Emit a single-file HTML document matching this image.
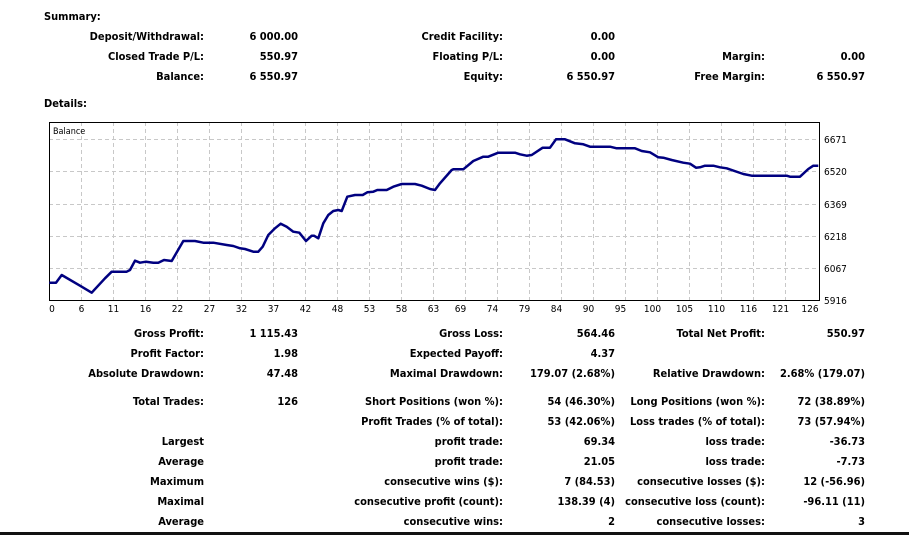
<!DOCTYPE html>
<html><head><meta charset="utf-8"><style>
body{margin:0;width:909px;height:535px;background:#fff;position:relative;overflow:hidden;font-family:"DejaVu Sans Condensed","Liberation Sans",sans-serif;font-weight:bold;font-size:11px;color:#000}
.t{position:absolute;line-height:14px;white-space:nowrap}
</style></head><body>
<div class="t" style="left:44px;top:10px">Summary:</div>
<div class="t" style="left:44px;top:97px">Details:</div>

<div class="t" style="right:705px;top:30px">Deposit/Withdrawal:</div>
<div class="t" style="right:611px;top:30px">6 000.00</div>
<div class="t" style="right:406px;top:30px">Credit Facility:</div>
<div class="t" style="right:294px;top:30px">0.00</div>

<div class="t" style="right:705px;top:50px">Closed Trade P/L:</div>
<div class="t" style="right:611px;top:50px">550.97</div>
<div class="t" style="right:406px;top:50px">Floating P/L:</div>
<div class="t" style="right:294px;top:50px">0.00</div>
<div class="t" style="right:144px;top:50px">Margin:</div>
<div class="t" style="right:44px;top:50px">0.00</div>

<div class="t" style="right:705px;top:70px">Balance:</div>
<div class="t" style="right:611px;top:70px">6 550.97</div>
<div class="t" style="right:406px;top:70px">Equity:</div>
<div class="t" style="right:294px;top:70px">6 550.97</div>
<div class="t" style="right:144px;top:70px">Free Margin:</div>
<div class="t" style="right:44px;top:70px">6 550.97</div>

<svg style="position:absolute;left:0;top:0" width="909" height="535" font-family="DejaVu Sans Condensed, Liberation Sans, sans-serif" font-size="10" font-weight="normal">
<g stroke="#c8c8c8" stroke-dasharray="4,3" stroke-width="1">
<line x1="49" y1="139.5" x2="820" y2="139.5"/><line x1="49" y1="171.5" x2="820" y2="171.5"/><line x1="49" y1="204.5" x2="820" y2="204.5"/><line x1="49" y1="236.5" x2="820" y2="236.5"/><line x1="49" y1="268.5" x2="820" y2="268.5"/>
<line x1="81.5" y1="122" x2="81.5" y2="301"/><line x1="113.5" y1="122" x2="113.5" y2="301"/><line x1="145.5" y1="122" x2="145.5" y2="301"/><line x1="177.5" y1="122" x2="177.5" y2="301"/><line x1="209.5" y1="122" x2="209.5" y2="301"/><line x1="241.5" y1="122" x2="241.5" y2="301"/><line x1="273.5" y1="122" x2="273.5" y2="301"/><line x1="305.5" y1="122" x2="305.5" y2="301"/><line x1="337.5" y1="122" x2="337.5" y2="301"/><line x1="369.5" y1="122" x2="369.5" y2="301"/><line x1="401.5" y1="122" x2="401.5" y2="301"/><line x1="433.5" y1="122" x2="433.5" y2="301"/><line x1="465.5" y1="122" x2="465.5" y2="301"/><line x1="497.5" y1="122" x2="497.5" y2="301"/><line x1="529.5" y1="122" x2="529.5" y2="301"/><line x1="561.5" y1="122" x2="561.5" y2="301"/><line x1="593.5" y1="122" x2="593.5" y2="301"/><line x1="625.5" y1="122" x2="625.5" y2="301"/><line x1="657.5" y1="122" x2="657.5" y2="301"/><line x1="689.5" y1="122" x2="689.5" y2="301"/><line x1="721.5" y1="122" x2="721.5" y2="301"/><line x1="753.5" y1="122" x2="753.5" y2="301"/><line x1="785.5" y1="122" x2="785.5" y2="301"/>
</g>
<rect x="49.5" y="122.5" width="770" height="178" fill="none" stroke="#000" stroke-width="1"/>
<text x="53" y="134" font-size="9">Balance</text>
<polyline fill="none" stroke="#000080" stroke-width="2.5" stroke-linejoin="round" points="49.3,282.7 56,282.7 61.7,275 80,285.7 91.7,292.7 105,278.3 111.7,271.7 126.7,271.7 130,270 135,260.7 140,262.7 146,261.7 153.3,262.7 158.3,262.7 164,260 171.7,261 183.3,241 195,241 203.3,242.7 213.3,242.7 226.7,245 233.3,246 240,248.3 245,249 253.3,251.7 258.3,251.7 262.7,246.7 268.3,235 275,228.3 280.7,223.7 286.7,226.7 293.3,231.7 299.3,232.7 306,241 311.7,235.7 314,235.7 318.3,238.3 323.3,223.3 328.3,215 333.3,211 338.3,210 341.7,211 347.3,196.7 355,195 362.7,195 367.3,192.3 373.3,191.7 377.3,190 386.7,190 393.3,186.7 401.7,184 415,184 421.7,185.7 430,189 435,190 440,183.3 451.7,170 453.3,169.3 463.3,169.3 473.3,161 483.3,156.7 488.3,156.7 498.3,152.7 515,152.7 520,154.3 526.7,155.7 531.7,155 542.7,147.7 550,147.7 556,139.3 565,139.3 575,143.3 583.3,144.3 590,146.7 610,146.7 616.7,148.3 635,148.3 641.7,151 650,152.3 658.3,157.3 663.3,157.7 671.7,160 683.3,162.7 690,163.7 696,167.7 700,167.3 705,165.7 713.3,165.7 720,167.3 726.7,168.3 743.3,174 751.7,175.7 786.7,175.7 790,176.7 800,176.7 808.3,169 813.3,165.7 818.3,165.7"/>
<g text-anchor="start">
<text x="824" y="143">6671</text><text x="824" y="175">6520</text><text x="824" y="208">6369</text><text x="824" y="240">6218</text><text x="824" y="272">6067</text><text x="824" y="304">5916</text>
</g>
<g text-anchor="middle">
<text x="52" y="312">0</text><text x="81.5" y="312">6</text><text x="113.5" y="312">11</text><text x="145.5" y="312">16</text><text x="177.5" y="312">22</text><text x="209.5" y="312">27</text><text x="241.5" y="312">32</text><text x="273.5" y="312">37</text><text x="305.5" y="312">42</text><text x="337.5" y="312">48</text><text x="369.5" y="312">53</text><text x="401.5" y="312">58</text><text x="433.5" y="312">63</text><text x="460.5" y="312">69</text><text x="492.5" y="312">74</text><text x="524.5" y="312">79</text><text x="556.5" y="312">84</text><text x="588.5" y="312">90</text><text x="620.5" y="312">95</text><text x="652.5" y="312">100</text><text x="684.5" y="312">105</text><text x="716.5" y="312">110</text><text x="748.5" y="312">116</text><text x="780.5" y="312">121</text><text x="810" y="312">126</text>
</g>
<rect x="0" y="532" width="909" height="3" fill="#111"/>
</svg>

<div class="t" style="right:705px;top:327px">Gross Profit:</div>
<div class="t" style="right:611px;top:327px">1 115.43</div>
<div class="t" style="right:406px;top:327px">Gross Loss:</div>
<div class="t" style="right:294px;top:327px">564.46</div>
<div class="t" style="right:144px;top:327px">Total Net Profit:</div>
<div class="t" style="right:44px;top:327px">550.97</div>

<div class="t" style="right:705px;top:347px">Profit Factor:</div>
<div class="t" style="right:611px;top:347px">1.98</div>
<div class="t" style="right:406px;top:347px">Expected Payoff:</div>
<div class="t" style="right:294px;top:347px">4.37</div>

<div class="t" style="right:705px;top:367px">Absolute Drawdown:</div>
<div class="t" style="right:611px;top:367px">47.48</div>
<div class="t" style="right:406px;top:367px">Maximal Drawdown:</div>
<div class="t" style="right:294px;top:367px">179.07 (2.68%)</div>
<div class="t" style="right:144px;top:367px">Relative Drawdown:</div>
<div class="t" style="right:44px;top:367px">2.68% (179.07)</div>

<div class="t" style="right:705px;top:395px">Total Trades:</div>
<div class="t" style="right:611px;top:395px">126</div>
<div class="t" style="right:406px;top:395px">Short Positions (won %):</div>
<div class="t" style="right:294px;top:395px">54 (46.30%)</div>
<div class="t" style="right:144px;top:395px">Long Positions (won %):</div>
<div class="t" style="right:44px;top:395px">72 (38.89%)</div>

<div class="t" style="right:406px;top:415px">Profit Trades (% of total):</div>
<div class="t" style="right:294px;top:415px">53 (42.06%)</div>
<div class="t" style="right:144px;top:415px">Loss trades (% of total):</div>
<div class="t" style="right:44px;top:415px">73 (57.94%)</div>

<div class="t" style="right:705px;top:435px">Largest</div>
<div class="t" style="right:406px;top:435px">profit trade:</div>
<div class="t" style="right:294px;top:435px">69.34</div>
<div class="t" style="right:144px;top:435px">loss trade:</div>
<div class="t" style="right:44px;top:435px">-36.73</div>

<div class="t" style="right:705px;top:455px">Average</div>
<div class="t" style="right:406px;top:455px">profit trade:</div>
<div class="t" style="right:294px;top:455px">21.05</div>
<div class="t" style="right:144px;top:455px">loss trade:</div>
<div class="t" style="right:44px;top:455px">-7.73</div>

<div class="t" style="right:705px;top:475px">Maximum</div>
<div class="t" style="right:406px;top:475px">consecutive wins ($):</div>
<div class="t" style="right:294px;top:475px">7 (84.53)</div>
<div class="t" style="right:144px;top:475px">consecutive losses ($):</div>
<div class="t" style="right:44px;top:475px">12 (-56.96)</div>

<div class="t" style="right:705px;top:495px">Maximal</div>
<div class="t" style="right:406px;top:495px">consecutive profit (count):</div>
<div class="t" style="right:294px;top:495px">138.39 (4)</div>
<div class="t" style="right:144px;top:495px">consecutive loss (count):</div>
<div class="t" style="right:44px;top:495px">-96.11 (11)</div>

<div class="t" style="right:705px;top:515px">Average</div>
<div class="t" style="right:406px;top:515px">consecutive wins:</div>
<div class="t" style="right:294px;top:515px">2</div>
<div class="t" style="right:144px;top:515px">consecutive losses:</div>
<div class="t" style="right:44px;top:515px">3</div>
</body></html>
